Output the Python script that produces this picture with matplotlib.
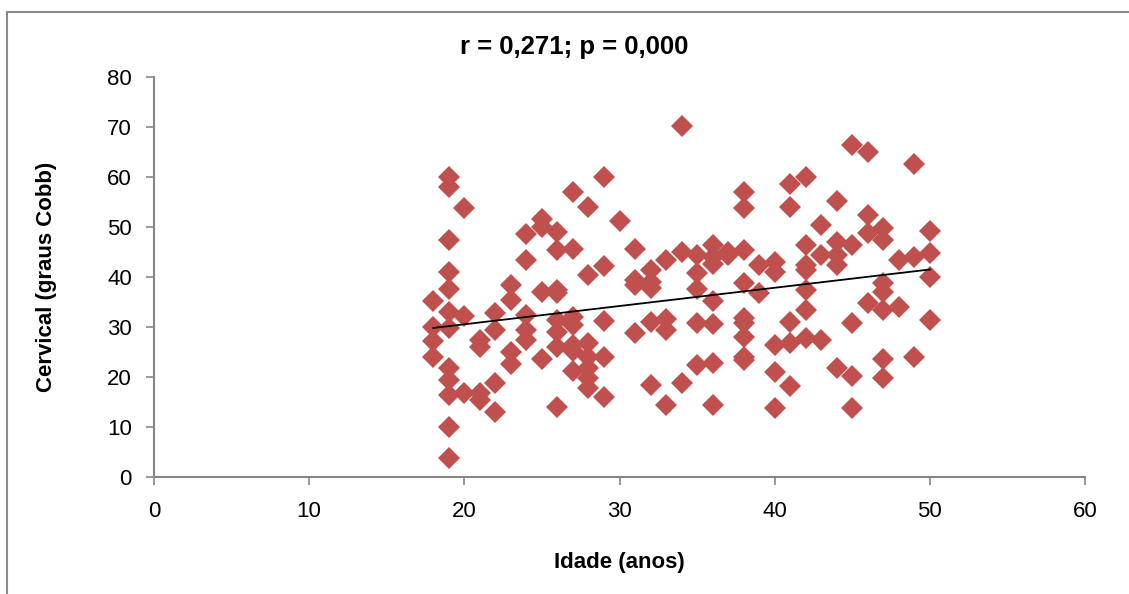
"""
Dispersão idade x ângulo cervical (graus Cobb) com reta de regressão.
"""

import matplotlib
matplotlib.use("Agg")
import matplotlib.pyplot as plt
import matplotlib.patches as mpatches
import numpy as np

plt.rcParams["font.family"] = ["Liberation Sans", "DejaVu Sans"]

COR_PONTO = "#C0504D"
COR_EIXO = "#868686"

# Dados: idade (anos) e cervical (graus Cobb), por coluna de idade
idade_18 = [35.3, 30.0, 27.2, 24.0]
idade_19 = [60.0, 58.0, 47.4, 41.0, 37.6, 33.0, 29.8, 21.8, 19.4, 16.4, 10.0, 3.8]
idade_20 = [53.8, 32.2, 16.8]
idade_21 = [27.4, 26.0, 16.8, 15.4]
idade_22 = [32.8, 29.4, 18.8, 13.0]
idade_23 = [38.4, 35.4, 25.0, 22.7]
idade_24 = [48.6, 43.5, 32.4, 29.4, 27.4]
idade_25 = [51.7, 50.0, 37.0, 23.7]
idade_26 = [49.0, 45.4, 37.5, 36.8, 31.4, 29.0, 26.0, 14.0]
idade_27 = [57.0, 45.6, 32.0, 30.4, 26.5, 25.2, 21.2]
idade_28 = [54.1, 40.4, 26.8, 24.0, 21.8, 19.8, 17.8]
idade_29 = [60.0, 42.2, 31.3, 24.0, 16.0]
idade_30 = [51.2]
idade_31 = [45.6, 39.4, 38.4, 28.9]
idade_32 = [41.4, 39.0, 37.8, 31.0, 18.4]
idade_33 = [43.4, 31.6, 29.4, 14.4]
idade_34 = [70.2, 45.0, 18.9]
idade_35 = [44.4, 40.9, 37.7, 30.9, 22.4]
idade_36 = [46.4, 44.0, 42.6, 35.3, 30.7, 22.9, 14.4]
idade_37 = [45.0, 44.4]
idade_38 = [57.0, 53.8, 45.4, 38.8, 31.8, 30.8, 28.0, 24.0, 23.4]
idade_39 = [42.4, 36.8]
idade_40 = [43.1, 41.0, 26.4, 21.0, 13.8]
idade_41 = [58.7, 54.0, 31.0, 26.8, 18.2]
idade_42 = [60.0, 46.4, 42.4, 41.4, 37.4, 33.4, 27.8]
idade_43 = [50.4, 44.4, 27.4]
idade_44 = [55.2, 47.0, 44.4, 42.4, 21.8]
idade_45 = [66.4, 46.4, 30.8, 20.2, 13.8]
idade_46 = [65.1, 52.4, 48.8, 34.8]
idade_47 = [49.8, 47.4, 38.8, 37.0, 33.4, 23.6, 19.8]
idade_48 = [43.4, 34.0]
idade_49 = [62.7, 44.0, 24.0]
idade_50 = [49.2, 44.8, 40.0, 31.4]

colunas = {
    18: idade_18, 19: idade_19, 20: idade_20, 21: idade_21, 22: idade_22,
    23: idade_23, 24: idade_24, 25: idade_25, 26: idade_26, 27: idade_27,
    28: idade_28, 29: idade_29, 30: idade_30, 31: idade_31, 32: idade_32,
    33: idade_33, 34: idade_34, 35: idade_35, 36: idade_36, 37: idade_37,
    38: idade_38, 39: idade_39, 40: idade_40, 41: idade_41, 42: idade_42,
    43: idade_43, 44: idade_44, 45: idade_45, 46: idade_46, 47: idade_47,
    48: idade_48, 49: idade_49, 50: idade_50,
}

x = np.array([k for k, vals in colunas.items() for _ in vals], dtype=float)
y = np.array([v for vals in colunas.values() for v in vals], dtype=float)

xticks = [0, 10, 20, 30, 40, 50, 60]
yticks = [0, 10, 20, 30, 40, 50, 60, 70, 80]

fig = plt.figure(figsize=(11.29, 5.94), dpi=100, facecolor="white")

# moldura externa cinza (só esquerda e topo aparecem)
fig.patches.append(mpatches.Rectangle(
    (7 / 1129, -0.05), 1.2, 1 - 12 / 594 + 0.05,
    transform=fig.transFigure, fill=False, edgecolor="#8c8c8c", linewidth=1.5))

ax = fig.add_axes([154 / 1129, 1 - 477 / 594, (1085 - 154) / 1129, 400 / 594])

ax.plot(x, y, linestyle="none", marker="D", markersize=11,
        markerfacecolor=COR_PONTO, markeredgewidth=0, zorder=2)

# reta de regressão linear
a, b = np.polyfit(x, y, 1)
xs = np.array([x.min(), x.max()])
ax.plot(xs, a * xs + b, color="black", linewidth=1.3, zorder=3)

ax.set_xlim(0, 60)
ax.set_ylim(0, 80)
ax.set_xticks(xticks)
ax.set_yticks(yticks)
ax.tick_params(axis="both", direction="out", length=6, width=1.2,
               color=COR_EIXO, labelsize=16)
ax.tick_params(axis="x", pad=11)
ax.tick_params(axis="y", pad=10)

for lado in ["top", "right"]:
    ax.spines[lado].set_visible(False)
for lado in ["left", "bottom"]:
    ax.spines[lado].set_color(COR_EIXO)
    ax.spines[lado].set_linewidth(1.5)

ax.set_xlabel("Idade (anos)", fontsize=16, fontweight="bold", labelpad=22)
ax.set_ylabel("Cervical (graus Cobb)", fontsize=16, fontweight="bold", labelpad=36)

fig.text(574 / 1129, 1 - 47 / 594, "r = 0,271; p = 0,000", ha="center", va="center",
         fontsize=18.5, fontweight="bold")

fig.savefig("out.png", dpi=100, facecolor=fig.get_facecolor())
